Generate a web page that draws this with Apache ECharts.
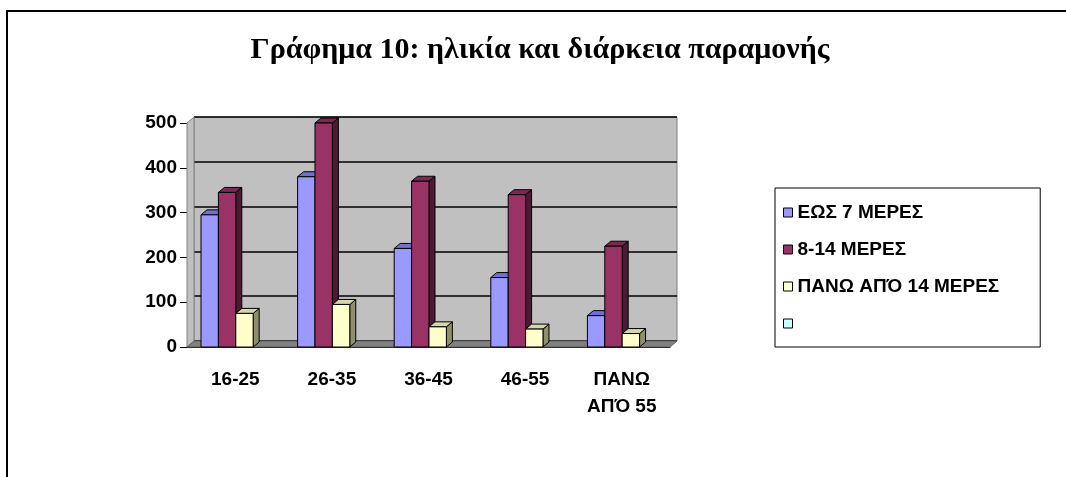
<!DOCTYPE html>
<html>
<head>
<meta charset="utf-8">
<script src="https://cdn.jsdelivr.net/npm/echarts@6/dist/echarts.min.js"></script>
<style>
  html, body { margin: 0; padding: 0; background: #fff; }
  #chart { width: 1066px; height: 477px; }
</style>
</head>
<body>
<div id="chart"></div>
<script>
  // κατηγορίες ηλικίας
  var ageGroups = ['16-25', '26-35', '36-45', '46-55', 'ΠΑΝΩ\nΑΠΌ 55']
  var seriesNames = ['ΕΩΣ 7 ΜΕΡΕΣ', '8-14 ΜΕΡΕΣ', 'ΠΑΝΩ ΑΠΌ 14 ΜΕΡΕΣ', ' ']
  var upTo7 = [295, 380, 220, 155, 70]
  var days8to14 = [345, 500, 370, 340, 225]
  var over14 = [75, 95, 45, 40, 30]
  var yTicks = [0, 100, 200, 300, 400, 500]

  // χρώματα: μπροστά, πάνω, πλάι
  var faces = [
    ['#9999FF', '#7070d0', '#4c4c80'],
    ['#993366', '#7a2952', '#4d1a33'],
    ['#FFFFCC', '#d6d6a8', '#8f8f70']
  ]
  var DX = 6
  var DY = 5

  function bar3d (si) {
    return function (params, api) {
      var idx = api.value(0)
      var v = api.value(1)
      var base = api.coord([idx, 0])
      var top = api.coord([idx, v])
      var catW = api.size([1, 0])[0]
      var bw = catW * 0.18
      var x0 = base[0] - catW / 2 + catW * 0.145 + si * bw
      var x1 = x0 + bw
      var yt = top[1]
      var yb = base[1]
      var line = { stroke: '#000', lineWidth: 1 }
      return {
        type: 'group',
        children: [
          {
            type: 'polygon',
            shape: { points: [[x1, yt], [x1 + DX, yt - DY], [x1 + DX, yb - DY], [x1, yb]] },
            style: Object.assign({ fill: faces[si][2] }, line)
          },
          {
            type: 'polygon',
            shape: { points: [[x0, yt], [x0 + DX, yt - DY], [x1 + DX, yt - DY], [x1, yt]] },
            style: Object.assign({ fill: faces[si][1] }, line)
          },
          {
            type: 'rect',
            shape: { x: x0, y: yt, width: bw, height: yb - yt },
            style: Object.assign({ fill: faces[si][0] }, line)
          }
        ]
      }
    }
  }

  // πλαϊνός τοίχος και δάπεδο
  function walls (params, api) {
    var cs = params.coordSys
    var l = cs.x
    var t = cs.y
    var r = cs.x + cs.width
    var b = cs.y + cs.height
    return {
      type: 'group',
      children: [
        {
          type: 'polygon',
          shape: { points: [[l, t], [l + DX + 1, t - DY - 1], [l + DX + 1, b - DY - 1], [l, b]] },
          style: { fill: '#C0C0C0', stroke: '#808080', lineWidth: 1 }
        },
        {
          type: 'polygon',
          shape: { points: [[l, b], [l + DX + 1, b - DY - 1], [r + DX + 1, b - DY - 1], [r, b]] },
          style: { fill: '#808080', stroke: '#606060', lineWidth: 1 }
        }
      ]
    }
  }

  function toPairs (arr) {
    return arr.map(function (v, i) { return [i, v] })
  }

  var chart = echarts.init(document.getElementById('chart'))
  var font = 'Liberation Sans, Arial, sans-serif'
  var option = {
    backgroundColor: '#fff',
    animation: false,
    title: {
      text: 'Γράφημα 10: ηλικία και διάρκεια παραμονής',
      left: 535,
      textAlign: 'center',
      top: 30,
      textStyle: { fontFamily: 'Liberation Serif, Times New Roman, serif', fontWeight: 'bold', fontSize: 30, color: '#000' }
    },
    graphic: [
      {
        type: 'rect',
        shape: { x: 7, y: 11, width: 1100, height: 500 },
        style: { fill: 'none', stroke: '#000', lineWidth: 2 },
        silent: true
      }
    ],
    legend: {
      orient: 'vertical',
      left: 775,
      top: 188,
      data: seriesNames,
      icon: 'rect',
      itemWidth: 9,
      itemHeight: 9,
      itemGap: 18,
      padding: [15, 41, 14, 8],
      borderColor: '#000',
      borderWidth: 1,
      itemStyle: { borderColor: '#000', borderWidth: 1 },
      textStyle: { fontFamily: font, fontWeight: 'bold', fontSize: 19, color: '#000' }
    },
    grid: [
      { left: 187, right: 396, top: 123, bottom: 130 },
      { left: 194, right: 389, top: 117, bottom: 136, show: true, backgroundColor: '#C0C0C0', borderColor: '#808080', borderWidth: 1, z: 0 }
    ],
    xAxis: [
      {
        type: 'category',
        gridIndex: 0,
        data: ageGroups,
        axisLine: { lineStyle: { color: '#000', width: 1 } },
        axisTick: { length: 6, lineStyle: { color: '#000' } },
        axisLabel: { margin: 19, lineHeight: 27, color: '#000', fontFamily: font, fontWeight: 'bold', fontSize: 19, interval: 0 }
      },
      {
        type: 'category',
        gridIndex: 1,
        data: ageGroups,
        show: false
      }
    ],
    yAxis: [
      {
        type: 'value',
        gridIndex: 0,
        min: 0,
        max: 500,
        interval: 100,
        axisLine: { show: true, lineStyle: { color: '#000', width: 1 } },
        axisTick: { show: true, length: 7, lineStyle: { color: '#000' } },
        axisLabel: { margin: 10, color: '#000', fontFamily: font, fontWeight: 'bold', fontSize: 19,
          customValues: yTicks },
        splitLine: { show: false }
      },
      {
        type: 'value',
        gridIndex: 1,
        min: 0,
        max: 500,
        interval: 100,
        axisLine: { show: false },
        axisTick: { show: false },
        axisLabel: { show: false },
        splitLine: { show: true, lineStyle: { color: '#000', width: 1.5 } }
      }
    ],
    series: [
      {
        type: 'custom',
        name: 'walls',
        xAxisIndex: 0,
        yAxisIndex: 0,
        data: [[0, 0]],
        renderItem: walls,
        silent: true,
        z: 1
      },
      {
        type: 'custom',
        name: seriesNames[0],
        data: toPairs(upTo7),
        renderItem: bar3d(0),
        itemStyle: { color: faces[0][0] },
        z: 3
      },
      {
        type: 'custom',
        name: seriesNames[1],
        data: toPairs(days8to14),
        renderItem: bar3d(1),
        itemStyle: { color: faces[1][0] },
        z: 4
      },
      {
        type: 'custom',
        name: seriesNames[2],
        data: toPairs(over14),
        renderItem: bar3d(2),
        itemStyle: { color: faces[2][0] },
        z: 5
      },
      {
        type: 'bar',
        name: seriesNames[3],
        data: [],
        itemStyle: { color: '#CCFFFF' }
      }
    ]
  }
  chart.setOption(option)
</script>
</body>
</html>
